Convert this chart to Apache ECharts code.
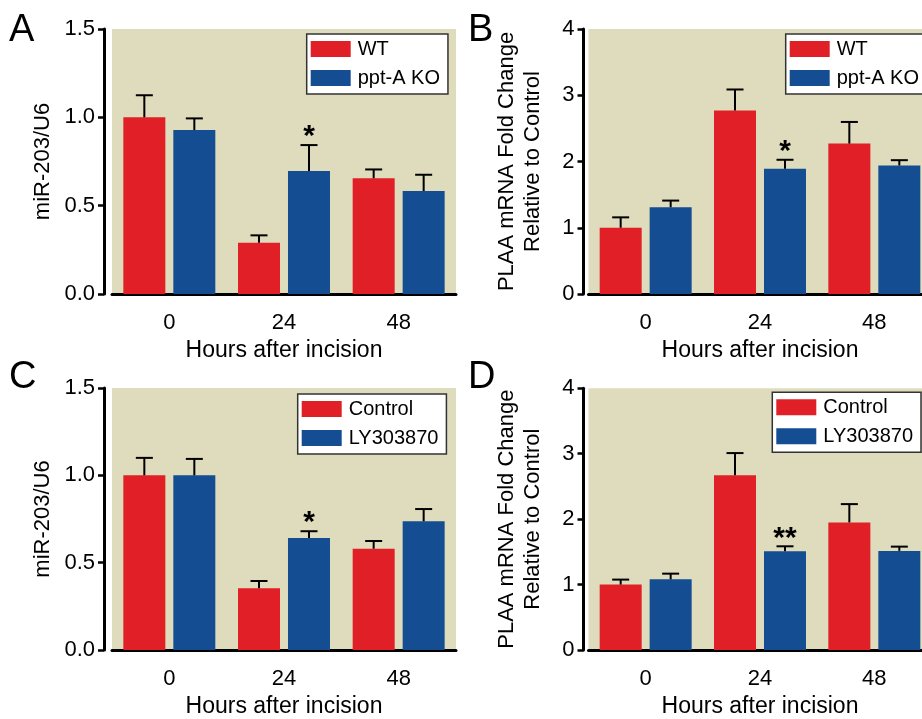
<!DOCTYPE html>
<html>
<head>
<meta charset="utf-8">
<script src="https://cdn.jsdelivr.net/npm/echarts@6/dist/echarts.min.js"></script>
<style>
html,body{margin:0;padding:0;background:#fff;overflow:hidden;width:922px;height:719px;}
#chart{width:940px;height:719px;}
</style>
</head>
<body>
<div id="chart"></div>
<script>
// ---- data ----
const categories = ['0', '24', '48'];
const xAxisTitle = 'Hours after incision';

// Panel A
const wtA = [1.0, 0.29, 0.655];
const wtAErr = [0.125, 0.042, 0.05];
const koA = [0.928, 0.696, 0.583];
const koAErr = [0.066, 0.147, 0.092];
const koASig = ['', '*', ''];

// Panel B
const wtB = [1.0, 2.77, 2.27];
const wtBErr = [0.157, 0.317, 0.327];
const koB = [1.31, 1.89, 1.94];
const koBErr = [0.10, 0.136, 0.08];
const koBSig = ['', '*', ''];

// Panel C
const ctlC = [1.0, 0.353, 0.58];
const ctlCErr = [0.10, 0.042, 0.044];
const lyC = [1.0, 0.641, 0.737];
const lyCErr = [0.094, 0.039, 0.07];
const lyCSig = ['', '*', ''];

// Panel D
const ctlD = [1.0, 2.67, 1.95];
const ctlDErr = [0.076, 0.34, 0.28];
const lyD = [1.08, 1.51, 1.515];
const lyDErr = [0.087, 0.075, 0.065];
const lyDSig = ['', '**', ''];

const noSig = ['', '', ''];

// ---- style ----
const RED = '#e01f27';
const BLUE = '#154d92';
const BG = '#dedcbd';
const FONT = "'Liberation Sans', Arial, sans-serif";
const BAR_W = 42;
const HALF_OFF = 25; // center offset of each bar inside a group

const chart = echarts.init(document.getElementById('chart'), null, {renderer: 'canvas'});

const grids = [
  {left: 112, top: 29, width: 344, height: 265},
  {left: 588.5, top: 29, width: 343, height: 265},
  {left: 112, top: 388, width: 344, height: 264.5},
  {left: 588.5, top: 388.3, width: 343, height: 264}
].map(g => Object.assign({show: true, backgroundColor: BG, borderWidth: 0, containLabel: false}, g));

function xAxisFor(i) {
  return {
    type: 'category', gridIndex: i, data: categories, offset: 5,
    axisLine: {lineStyle: {color: '#000', width: 3}},
    axisTick: {alignWithLabel: true, length: 6, lineStyle: {color: '#000', width: 3}},
    axisLabel: {color: '#000', fontSize: 22, fontFamily: FONT, margin: 13},
    name: xAxisTitle, nameLocation: 'middle', nameGap: 40,
    nameTextStyle: {color: '#000', fontSize: 23, fontFamily: FONT}
  };
}
function yAxisFor(i, max, interval, name, decimals, off, gap, lh) {
  return {
    type: 'value', gridIndex: i, min: 0, max: max, interval: interval, offset: off,
    axisLine: {show: true, lineStyle: {color: '#000', width: 3}},
    axisTick: {show: true, length: 6, lineStyle: {color: '#000', width: 2.5}},
    splitLine: {show: false},
    axisLabel: {color: '#000', fontSize: 22, fontFamily: FONT, margin: 9,
      formatter: v => v.toFixed(decimals)},
    name: name, nameLocation: 'middle', nameGap: gap, nameRotate: 90,
    nameTextStyle: {color: '#000', fontSize: 22, fontFamily: FONT, lineHeight: lh}
  };
}

function barSeries(name, data, color, idx) {
  return {
    type: 'bar', name: name, data: data, xAxisIndex: idx, yAxisIndex: idx,
    barWidth: BAR_W, barGap: '19%',
    itemStyle: {color: color}
  };
}

function errSeries(means, errs, sigs, idx, dir) {
  const data = means.map((m, k) => [k, m, errs[k]]);
  return {
    type: 'custom', xAxisIndex: idx, yAxisIndex: idx, clip: false, z: 5,
    silent: true,
    data: data,
    renderItem: function (params, api) {
      const k = api.value(0), m = api.value(1), e = api.value(2);
      const p0 = api.coord([k, m]);
      const p1 = api.coord([k, m + e]);
      const cx = p0[0] + dir * HALF_OFF;
      const children = [
        {type: 'line', shape: {x1: cx, y1: p0[1], x2: cx, y2: p1[1]},
         style: {stroke: '#000', lineWidth: 2}},
        {type: 'line', shape: {x1: cx - 8.5, y1: p1[1], x2: cx + 8.5, y2: p1[1]},
         style: {stroke: '#000', lineWidth: 2}}
      ];
      const s = sigs[params.dataIndex];
      if (s) {
        children.push({type: 'text', x: cx, y: p1[1] + 7,
          style: {text: s, fill: '#000', fontSize: 30, fontFamily: FONT,
                  fontWeight: 'bold', align: 'center', verticalAlign: 'bottom'}});
      }
      return {type: 'group', children: children};
    }
  };
}

function legendFor(names, left, top) {
  return {
    data: names, left: left, top: top, orient: 'vertical',
    itemWidth: 40, itemHeight: 16, itemGap: 9, icon: 'rect',
    backgroundColor: '#fff', borderColor: '#333', borderWidth: 1.5, borderRadius: 0,
    padding: [5, 8, 6, 4], selectedMode: false,
    textStyle: {color: '#000', fontSize: 20, fontFamily: FONT, padding: [0, 0, 0, 2]}
  };
}

const letterStyle = {fill: '#000', fontSize: 38, fontFamily: FONT};

const option = {
  animation: false,
  grid: grids,
  xAxis: [0, 1, 2, 3].map(xAxisFor),
  yAxis: [
    yAxisFor(0, 1.5, 0.5, 'miR-203/U6', 1, 8, 48, 26),
    yAxisFor(1, 4, 1, 'PLAA mRNA Fold Change\nRelative to Control', 0, 5, 38, 26),
    yAxisFor(2, 1.5, 0.5, 'miR-203/U6', 1, 8, 48, 26),
    yAxisFor(3, 4, 1, 'PLAA mRNA Fold Change\nRelative to Control', 0, 5, 38, 26)
  ],
  legend: [
    legendFor(['WT', 'ppt-A KO'], 306.7, 34),
    legendFor(['WT', 'ppt-A KO'], 785.7, 34),
    legendFor(['Control', 'LY303870'], 297.7, 394),
    legendFor(['Control', 'LY303870'], 772.3, 392.3)
  ],
  series: [
    barSeries('WT', wtA, RED, 0),
    barSeries('ppt-A KO', koA, BLUE, 0),
    barSeries('WT', wtB, RED, 1),
    barSeries('ppt-A KO', koB, BLUE, 1),
    barSeries('Control', ctlC, RED, 2),
    barSeries('LY303870', lyC, BLUE, 2),
    barSeries('Control', ctlD, RED, 3),
    barSeries('LY303870', lyD, BLUE, 3),
    errSeries(wtA, wtAErr, noSig, 0, -1),
    errSeries(koA, koAErr, koASig, 0, 1),
    errSeries(wtB, wtBErr, noSig, 1, -1),
    errSeries(koB, koBErr, koBSig, 1, 1),
    errSeries(ctlC, ctlCErr, noSig, 2, -1),
    errSeries(lyC, lyCErr, lyCSig, 2, 1),
    errSeries(ctlD, ctlDErr, noSig, 3, -1),
    errSeries(lyD, lyDErr, lyDSig, 3, 1)
  ],
  graphic: [
    {type: 'text', left: 9, top: 12, style: Object.assign({text: 'A'}, letterStyle)},
    {type: 'text', left: 468, top: 12, style: Object.assign({text: 'B'}, letterStyle)},
    {type: 'text', left: 9, top: 359, style: Object.assign({text: 'C'}, letterStyle)},
    {type: 'text', left: 468, top: 359, style: Object.assign({text: 'D'}, letterStyle)}
  ]
};
chart.setOption(option);
</script>
</body>
</html>
